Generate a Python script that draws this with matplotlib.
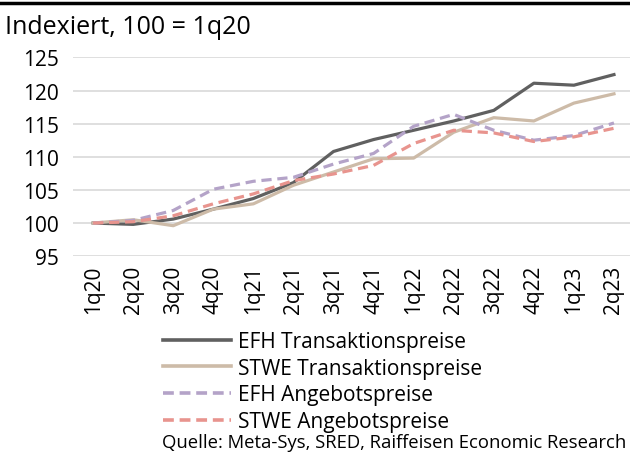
import matplotlib.pyplot as plt
from matplotlib.lines import Line2D

plt.rcParams['font.family'] = ['Open Sans', 'DejaVu Sans']

quarters = ['1q20', '2q20', '3q20', '4q20', '1q21', '2q21', '3q21', '4q21',
            '1q22', '2q22', '3q22', '4q22', '1q23', '2q23']

efh_trans = [100, 99.8, 100.6, 102.1, 103.7, 106.1, 110.8, 112.6,
             114.0, 115.4, 117.0, 121.1, 120.8, 122.4]
stwe_trans = [100, 100.5, 99.6, 102.1, 102.9, 105.7, 107.7, 109.7,
              109.8, 113.7, 115.9, 115.4, 118.1, 119.5]
efh_angebot = [100, 100.4, 101.9, 105.1, 106.3, 106.9, 108.9, 110.5,
               114.6, 116.4, 114.0, 112.5, 113.2, 115.1]
stwe_angebot = [100, 100.2, 101.1, 102.9, 104.4, 106.4, 107.4, 108.7,
                112.0, 114.0, 113.6, 112.3, 113.0, 114.3]

labels = ['EFH Transaktionspreise', 'STWE Transaktionspreise',
          'EFH Angebotspreise', 'STWE Angebotspreise']
colors = ['#606060', '#cdbba8', '#b4a3c8', '#e8948e']
styles = ['-', '-', '--', '--']

fig = plt.figure(figsize=(6.3, 4.56), dpi=100)
ax = fig.add_axes([0.116, 0.436, 0.884, 0.436])

x = range(len(quarters))
series = [efh_trans, stwe_trans, efh_angebot, stwe_angebot]
for s, c, ls in zip(series, colors, styles):
    ax.plot(x, s, color=c, linestyle=ls, lw=2.3,
            dashes=(3.2, 1.8) if ls == '--' else (None, None))

ax.set_ylim(95, 125)
ax.set_yticks(range(95, 126, 5))
ax.set_xlim(-0.5, 13.4)
ax.set_xticks(list(x))
ax.set_xticklabels(quarters, rotation=90)
ax.tick_params(length=0, labelsize=15, pad=6)
ax.tick_params(axis='y', pad=10)
ax.grid(axis='y', color='#d9d9d9', lw=1.2)
ax.set_axisbelow(True)
for sp in ax.spines.values():
    sp.set_visible(False)

# top rule and title
fig.add_artist(Line2D([0, 1], [0.992, 0.992], color='black', lw=2.5))
fig.text(0.008, 0.94, 'Indexiert, 100 = 1q20', fontsize=18, va='center')

handles = [Line2D([0], [0], color=c, lw=2.6, linestyle=ls,
                  dashes=(3, 1.6) if ls == '--' else (None, None))
           for c, ls in zip(colors, styles)]
fig.legend(handles, labels, loc='upper left', bbox_to_anchor=(0.258, 0.272),
           frameon=False, fontsize=15, handlelength=3.3, handletextpad=0.3,
           labelspacing=0.27, borderaxespad=0, borderpad=0)

fig.text(0.994, 0.028, 'Quelle: Meta-Sys, SRED, Raiffeisen Economic Research',
         fontsize=13.3, ha='right', va='center')

fig.savefig('out.png', dpi=100)
